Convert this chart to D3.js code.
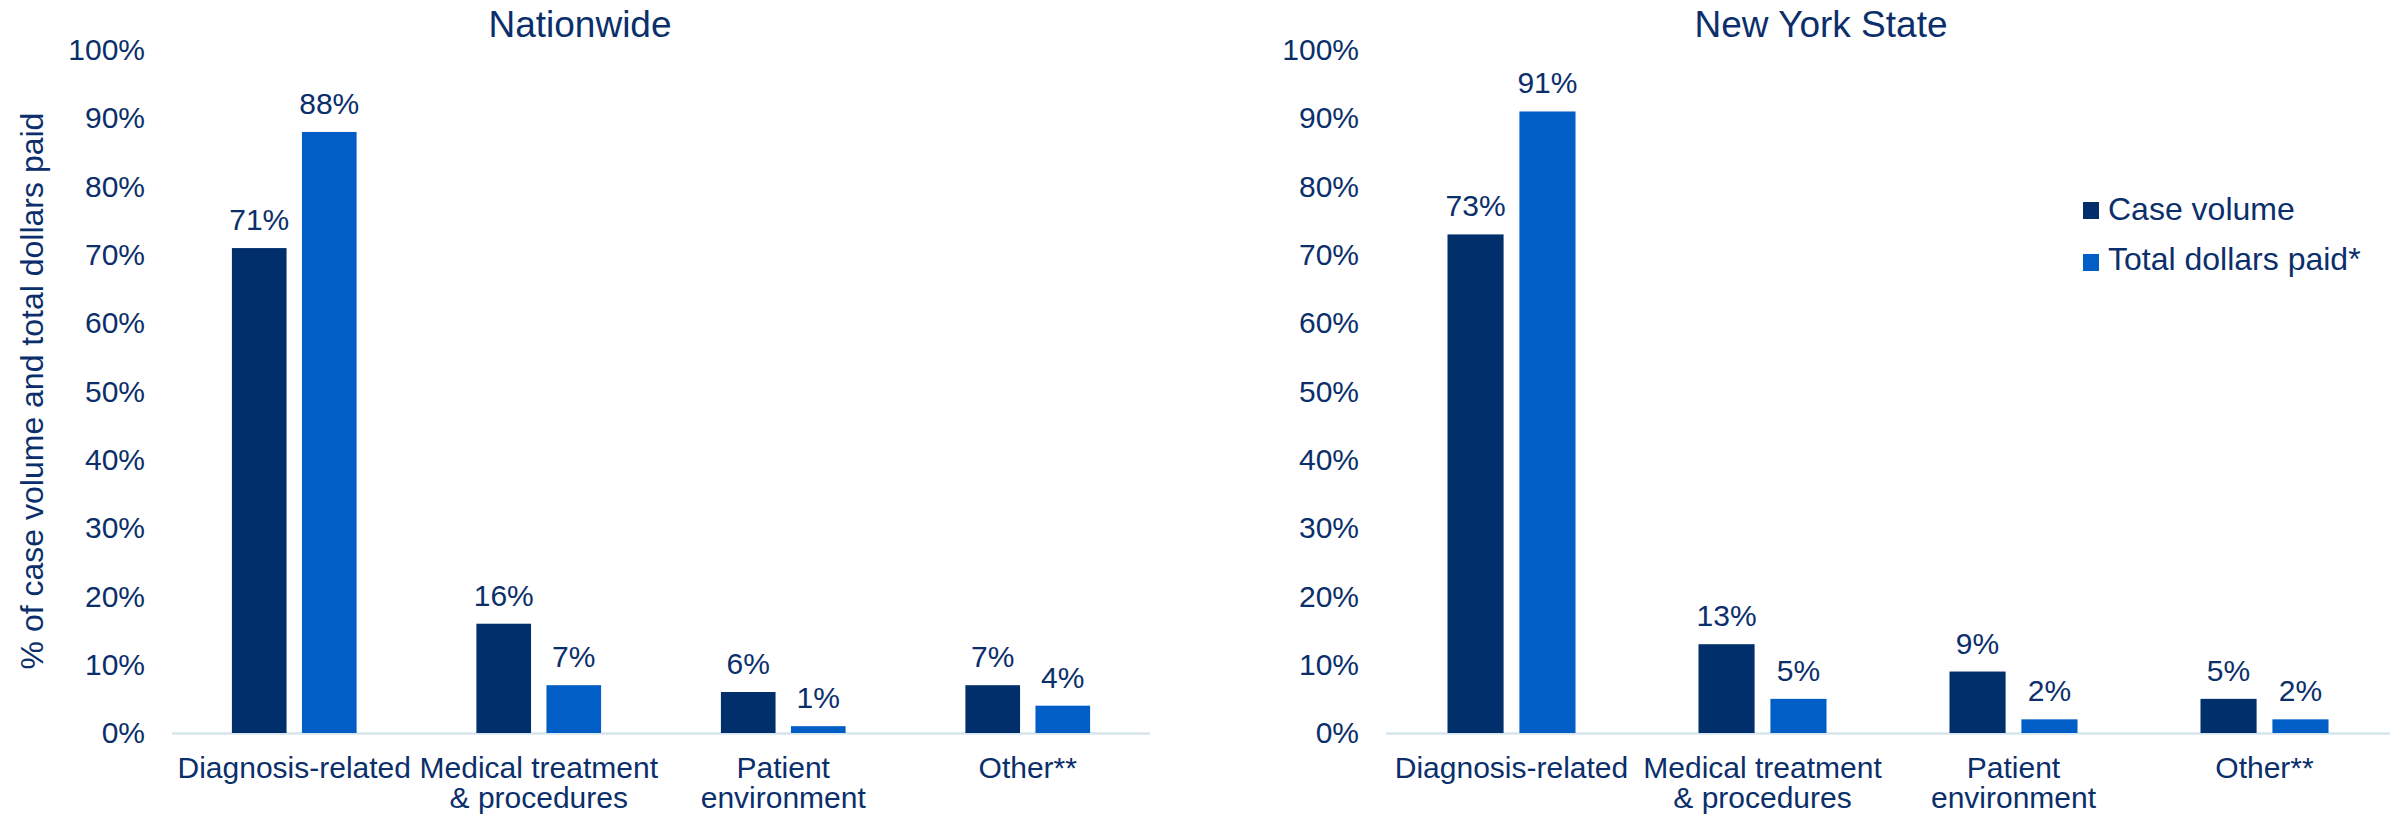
<!DOCTYPE html>
<html>
<head>
<meta charset="utf-8">
<script src="https://cdn.jsdelivr.net/npm/d3@7"></script>
<style>
  body { margin: 0; background: #fff; }
  svg text { font-family: "Liberation Sans", Arial, sans-serif; fill: #0b2f6b; }
</style>
</head>
<body>
<svg width="2402" height="814"></svg>
<script>
// categories and series (percent)
var categories = ["Diagnosis-related", "Medical treatment|& procedures", "Patient|environment", "Other**"];
var seriesNames = ["Case volume", "Total dollars paid*"];
var nationCases = [71, 16, 6, 7];
var nationDollars = [88, 7, 1, 4];
var nyCases = [73, 13, 9, 5];
var nyDollars = [91, 5, 2, 2];
var yTicks = [0, 10, 20, 30, 40, 50, 60, 70, 80, 90, 100];

var colors = ["#002f6c", "#005ec6"];
var svg = d3.select("svg");

var y = d3.scaleLinear().domain([0, 100]).range([733, 50]);

function drawPanel(title, titleX, left, right, cases, dollars) {
  var g = svg.append("g");
  var x0 = d3.scaleBand().domain(categories).range([left, right])
      .paddingInner(0.49).paddingOuter(0.245);
  var x1 = d3.scaleBand().domain([0, 1]).range([0, x0.bandwidth()]).paddingInner(0.22);

  // y axis labels
  var ax = g.append("g")
      .attr("transform", "translate(" + left + ",0)")
      .call(d3.axisLeft(y).tickValues(yTicks).tickSize(0).tickPadding(27)
        .tickFormat(function (d) { return d + "%"; }));
  ax.select(".domain").remove();
  ax.selectAll("text").style("font-size", "30px").attr("fill", "#0b2f6b")
    .style("font-family", "'Liberation Sans', Arial, sans-serif");

  // baseline
  g.append("line")
    .attr("x1", left).attr("x2", right)
    .attr("y1", y(0) + 0.5).attr("y2", y(0) + 0.5)
    .attr("stroke", "#d6e4ee").attr("stroke-width", 2.5);

  var rows = categories.map(function (c, i) { return { cat: c, vals: [cases[i], dollars[i]] }; });

  var grp = g.selectAll(".grp").data(rows).enter().append("g")
      .attr("transform", function (d) { return "translate(" + x0(d.cat) + ",0)"; });

  grp.selectAll("rect").data(function (d) { return d.vals; }).enter().append("rect")
    .attr("x", function (d, i) { return x1(i); })
    .attr("width", x1.bandwidth())
    .attr("y", function (d) { return y(d); })
    .attr("height", function (d) { return y(0) - y(d); })
    .attr("fill", function (d, i) { return colors[i]; });

  grp.selectAll(".val").data(function (d) { return d.vals; }).enter().append("text")
    .attr("x", function (d, i) { return x1(i) + x1.bandwidth() / 2; })
    .attr("y", function (d) { return y(d) - 18; })
    .attr("text-anchor", "middle")
    .style("font-size", "30px")
    .text(function (d) { return d + "%"; });

  // category labels
  var cl = g.selectAll(".cat").data(categories).enter().append("text")
    .attr("text-anchor", "middle")
    .style("font-size", "30px")
    .attr("transform", function (d) { return "translate(" + (x0(d) + x0.bandwidth() / 2) + ",0)"; });
  cl.selectAll("tspan").data(function (d) { return d.split("|"); }).enter().append("tspan")
    .attr("x", 0)
    .attr("y", function (d, i) { return 778 + i * 30; })
    .text(function (d) { return d; });

  g.append("text")
    .attr("x", titleX).attr("y", 37)
    .attr("text-anchor", "middle")
    .style("font-size", "37px")
    .text(title);
}

drawPanel("Nationwide", 580, 172, 1150, nationCases, nationDollars);
drawPanel("New York State", 1821, 1386, 2390, nyCases, nyDollars);

// y axis title
svg.append("text")
  .attr("transform", "translate(43,391) rotate(-90)")
  .attr("text-anchor", "middle")
  .style("font-size", "32px")
  .text("% of case volume and total dollars paid");

// legend
var leg = svg.append("g").attr("transform", "translate(2083,0)");
seriesNames.forEach(function (s, i) {
  leg.append("rect").attr("x", 0).attr("y", 202 + i * 52).attr("width", 16).attr("height", 17)
    .attr("fill", colors[i]);
  leg.append("text").attr("x", 25).attr("y", 220 + i * 50)
    .style("font-size", "32px").text(s);
});
</script>
</body>
</html>
